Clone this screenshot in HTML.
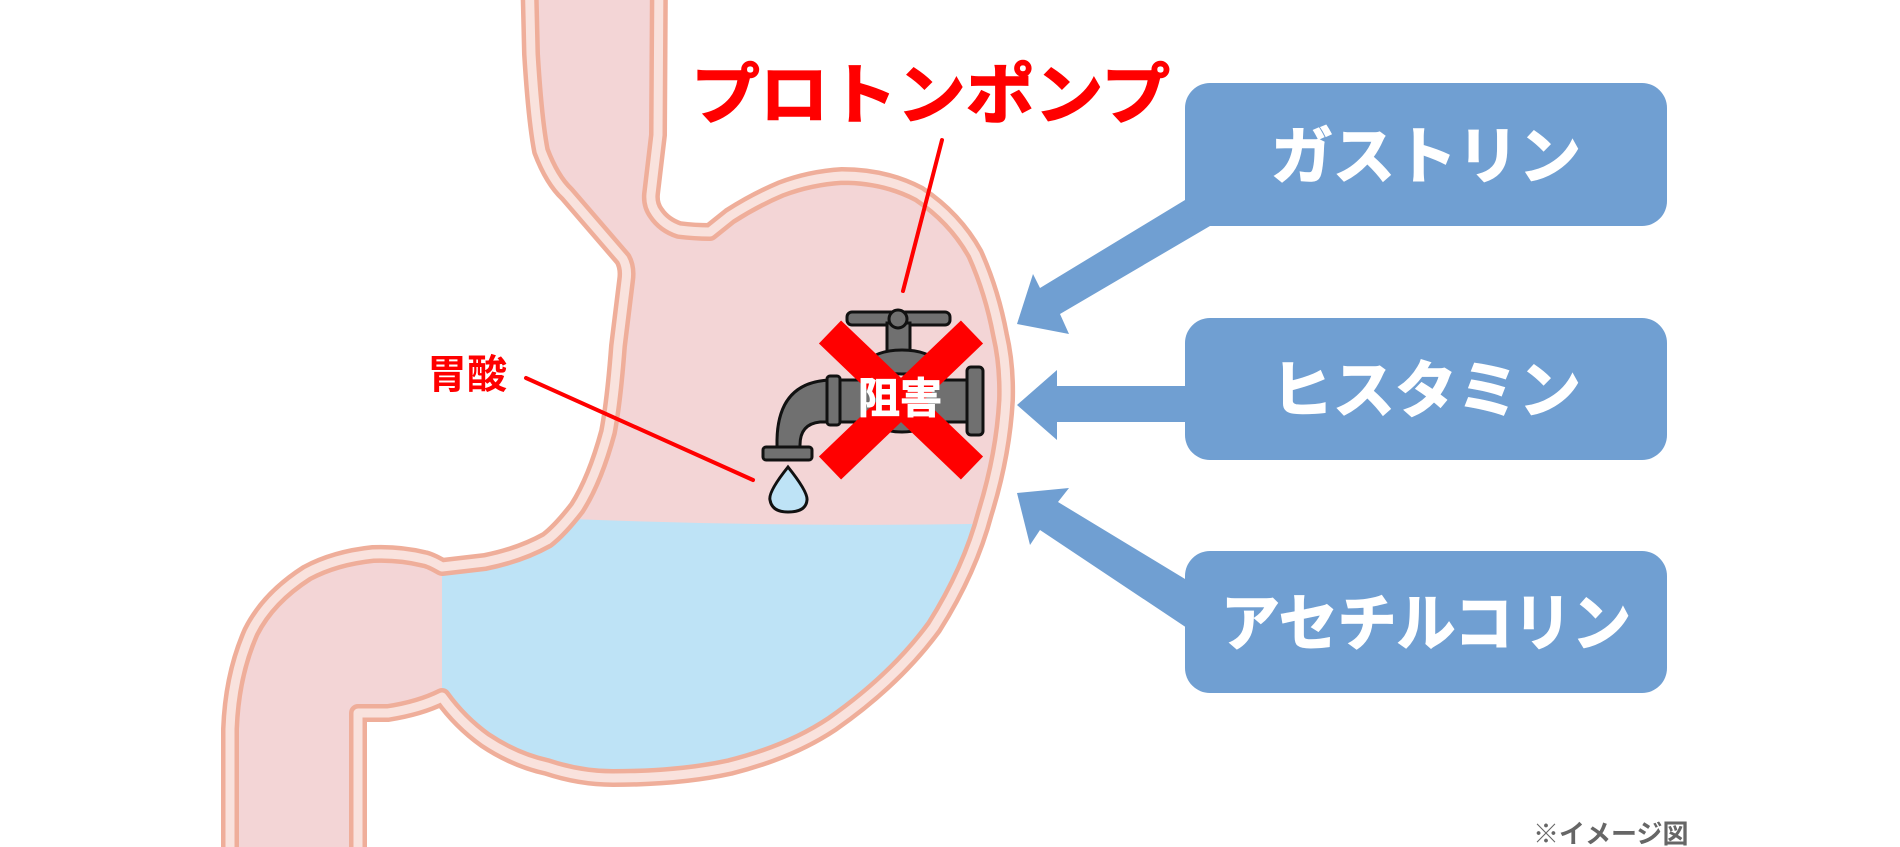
<!DOCTYPE html>
<html><head><meta charset="utf-8"><style>
html,body{margin:0;padding:0;background:#fff;width:1900px;height:847px;overflow:hidden}
svg{display:block}
text{font-family:"Liberation Sans","Noto Sans CJK JP",sans-serif;font-weight:bold}
</style></head><body>
<svg width="1900" height="847" viewBox="0 0 1900 847" xmlns="http://www.w3.org/2000/svg">
<defs>
<path id="st" d="M529,-30 L531,54 Q535,120 541,151 Q552,180 567,194 L623,259 Q628,268 626,281 L618,346 Q614,400 608,432 Q595,480 577,508 Q560,530 547,540 Q520,555 485,562 L442,567 Q430,560 424,559 Q400,553 373,554 Q335,558 307,573 Q268,598 251,632 Q232,675 230,729 L230,880 L358,880 L358,713 L388,713 Q420,708 442,697 Q460,722 485,740 Q515,760 547,767 Q580,778 613,778 Q680,778 730,767 Q790,752 832,724 Q895,680 934,627 Q970,570 985,513 Q1003,455 1006,400 Q1007,365 1000,335 Q992,292 975,254 Q955,218 919,194 Q885,176 842,176 Q810,178 781,189 Q755,200 730,216 L710,232 Q695,232 679,230 Q664,225 656,213 Q650,205 651,194 L658,135 L659,-30 Z"/>
<clipPath id="cp"><use href="#st"/></clipPath>
</defs>
<use href="#st" fill="#f3d5d6"/>
<g clip-path="url(#cp)">
<path d="M442,567 L442,519 L572,519 Q770,527 970,524 L1100,524 L1100,847 L442,847 Z" fill="#bee3f6"/>
</g>
<use href="#st" fill="none" stroke="#efae9a" stroke-width="18" stroke-linejoin="round"/>
<use href="#st" fill="none" stroke="#f9e2dd" stroke-width="9" stroke-linejoin="round"/>

<!-- arrows -->
<g fill="#709fd2">
<polygon points="1017,324 1033,274 1040,288 1185,200 1210,226 1060,314 1069,334"/>
<polygon points="1017,405 1057,370 1057,386 1190,386 1190,422 1057,422 1057,440"/>
<polygon points="1017,493 1069,488 1058,502 1190,582 1190,630 1040,530 1030,545"/>
<rect x="1185" y="83" width="482" height="143" rx="25"/>
<rect x="1185" y="318" width="482" height="142" rx="25"/>
<rect x="1185" y="551" width="482" height="142" rx="25"/>
</g>
<g fill="#fff" font-size="62" text-anchor="middle" stroke="#fff" stroke-width="1.5">
<text x="1426" y="178">ガストリン</text>
<text x="1426" y="412">ヒスタミン</text>
<text x="1426" y="645" textLength="410" lengthAdjust="spacingAndGlyphs">アセチルコリン</text>
</g>

<!-- red labels -->
<text x="691" y="118" font-size="66" fill="#ff0000" stroke="#ff0000" stroke-width="1.5" textLength="479" lengthAdjust="spacingAndGlyphs">プロトンポンプ</text>
<line x1="942" y1="140" x2="903" y2="291" stroke="#ff0000" stroke-width="4" stroke-linecap="round"/>
<text x="427" y="388" font-size="40" fill="#ff0000">胃酸</text>
<line x1="526" y1="378" x2="753" y2="480" stroke="#ff0000" stroke-width="4" stroke-linecap="round"/>

<!-- faucet -->
<g stroke="#111" stroke-width="3" fill="#707070">
<rect x="847" y="312" width="103" height="13" rx="5"/>
<rect x="887" y="323" width="23" height="34"/>
<circle cx="898" cy="319" r="9"/>
<ellipse cx="902" cy="362" rx="32" ry="12"/>
<path d="M840,380 L840,422 L820,422 Q800,424 800,445 L800,450 L777,450 L777,440 Q778,382 830,380 Z"/>
<rect x="840" y="380" width="127" height="42"/>
<ellipse cx="902" cy="423" rx="25" ry="9"/>
<rect x="827" y="376" width="13" height="49" rx="3"/>
<rect x="967" y="367" width="16" height="68" rx="4"/>
<rect x="763" y="447" width="49" height="13" rx="3"/>
<path d="M788,467 Q768,492 770,500 Q772,512 788,512 Q806,512 807,500 Q808,492 788,467 Z" fill="#bee3f6"/>
</g>
<g stroke="#ff0000" stroke-width="32">
<line x1="830" y1="332" x2="972" y2="468"/>
<line x1="972" y1="332" x2="830" y2="468"/>
</g>
<text x="900" y="413" font-size="42" fill="#fff" text-anchor="middle" stroke="#fff" stroke-width="1">阻害</text>

<text x="1533" y="843" font-size="26" fill="#666">※イメージ図</text>
</svg>
</body></html>
